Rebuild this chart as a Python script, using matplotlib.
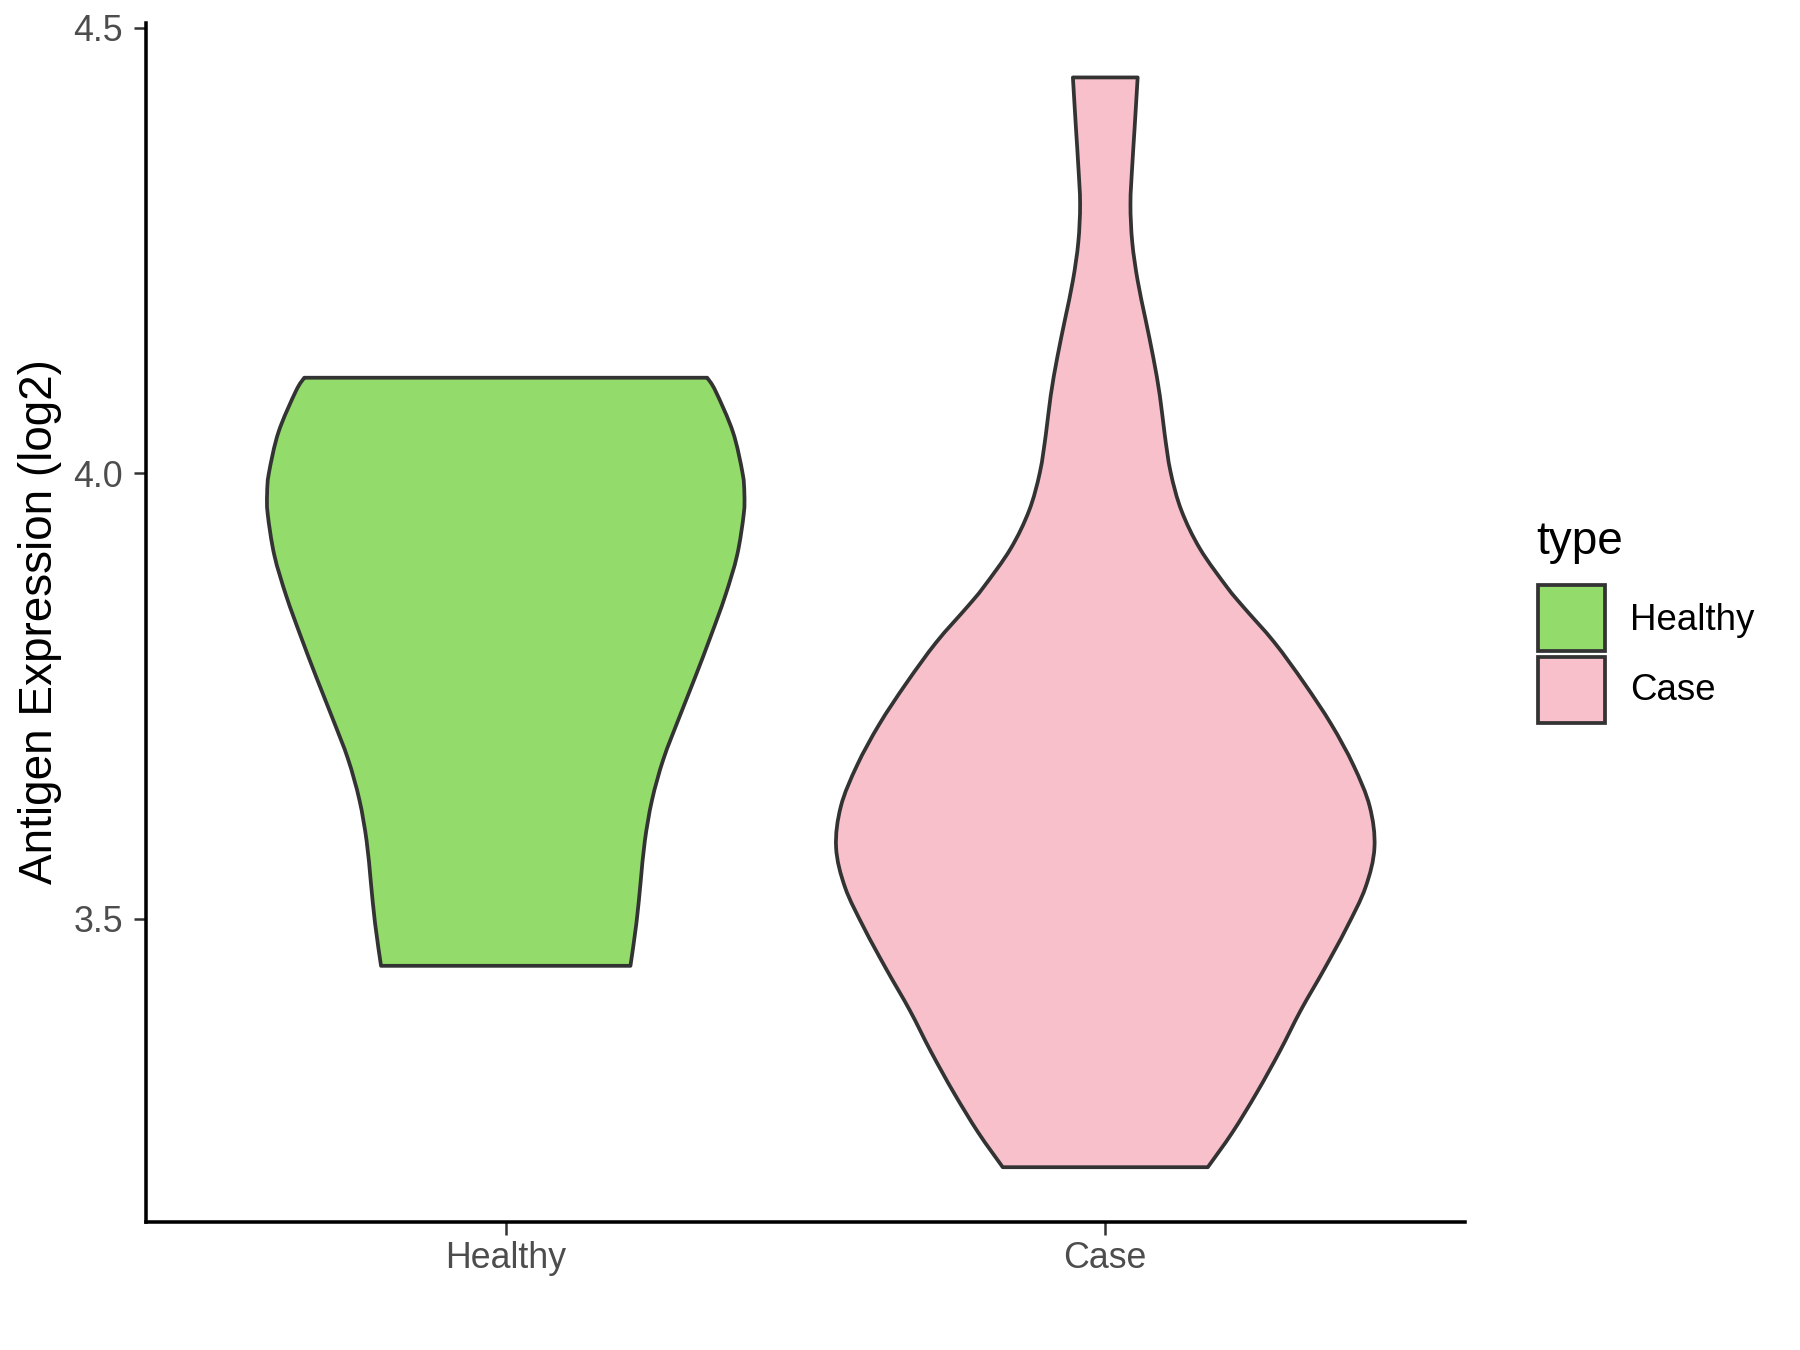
import matplotlib
matplotlib.use("Agg")
import matplotlib.pyplot as plt
from matplotlib.patches import Rectangle, PathPatch
from matplotlib.path import Path
import numpy as np

plt.rcParams['font.family'] = ['Liberation Sans', 'DejaVu Sans']

# ---- data (violin outlines) ----
categories = ["Healthy", "Case"]
fill_colors = ["#93DB6A", "#F8C0CB"]

healthy_y = [4.107, 4.092, 4.046, 4.000, 3.977, 3.954, 3.908, 3.862, 3.817,
             3.771, 3.725, 3.679, 3.633, 3.587, 3.541, 3.495, 3.447]
healthy_hw = [0.336, 0.350, 0.379, 0.395, 0.398, 0.397, 0.386, 0.366, 0.342,
              0.316, 0.289, 0.263, 0.244, 0.232, 0.225, 0.218, 0.208]

case_y = [4.444, 4.388, 4.345, 4.302, 4.259, 4.216, 4.173, 4.130, 4.087,
          4.044, 4.001, 3.958, 3.915, 3.872, 3.850, 3.810, 3.764, 3.718,
          3.672, 3.626, 3.580, 3.535, 3.489, 3.443, 3.397, 3.351, 3.305,
          3.260, 3.221]
case_hw = [0.054, 0.049, 0.045, 0.042, 0.045, 0.054, 0.067, 0.080, 0.091,
           0.099, 0.109, 0.127, 0.158, 0.203, 0.230, 0.282, 0.332, 0.377,
           0.414, 0.441, 0.449, 0.434, 0.402, 0.365, 0.326, 0.291, 0.253,
           0.212, 0.171]

y_ticks = [3.5, 4.0, 4.5]
y_tick_labels = ["3.5", "4.0", "4.5"]
y_label = "Antigen Expression (log2)"
legend_title = "type"

profiles = [(healthy_y, healthy_hw), (case_y, case_hw)]


def smooth_segments(pts):
    """Cubic Bezier pieces (Catmull-Rom) through the given points."""
    pts = np.asarray(pts, dtype=float)
    n = len(pts)
    verts, codes = [], []
    for i in range(n - 1):
        p0 = pts[i - 1] if i > 0 else pts[i]
        p1 = pts[i]
        p2 = pts[i + 1]
        p3 = pts[i + 2] if i + 2 < n else pts[i + 1]
        c1 = p1 + (p2 - p0) / 6.0
        c2 = p2 - (p3 - p1) / 6.0
        verts += [tuple(c1), tuple(c2), tuple(p2)]
        codes += [Path.CURVE4] * 3
    return verts, codes


# ---- figure ----
fig = plt.figure(figsize=(6, 4.5), dpi=300)
ax = fig.add_axes([146/1800, 1 - 1222/1350, (1465-146)/1800, (1222-23)/1350])

edge = "#333333"
for i, (yy, hw) in enumerate(profiles):
    c = i + 1
    yy = np.asarray(yy)
    hw = np.asarray(hw)
    left = np.column_stack([c - hw, yy])              # top -> bottom
    right = np.column_stack([c + hw, yy])[::-1]       # bottom -> top
    verts = [tuple(left[0])]
    codes = [Path.MOVETO]
    v, cd = smooth_segments(left)
    verts += v; codes += cd
    verts.append(tuple(right[0])); codes.append(Path.LINETO)
    v, cd = smooth_segments(right)
    verts += v; codes += cd
    verts.append(tuple(left[0])); codes.append(Path.CLOSEPOLY)
    patch = PathPatch(Path(verts, codes), facecolor=fill_colors[i],
                      edgecolor=edge, linewidth=0.9, joinstyle='round', zorder=2)
    ax.add_patch(patch)

ax.set_xlim(0.4, 2.6)
ax.set_ylim(3.1595, 4.5051)
ax.set_xticks([1, 2])
ax.set_xticklabels(categories)
ax.set_yticks(y_ticks)
ax.set_yticklabels(y_tick_labels)

for s in ["top", "right"]:
    ax.spines[s].set_visible(False)
for s in ["left", "bottom"]:
    ax.spines[s].set_linewidth(0.85)
    ax.spines[s].set_color("black")
ax.tick_params(axis='both', length=3.0, width=0.6, color="#333333",
               labelsize=8.6, labelcolor="#4D4D4D", pad=2.5)
ax.tick_params(axis='x', pad=1.6)

fig.text(40/1800, 1 - 622/1350, y_label, rotation=90, ha='center',
         va='center', fontsize=11, color='black')

# ---- legend ----
fig.text(1536/1800, 1 - 542/1350, legend_title, ha='left', va='center',
         fontsize=11, color='black')
key_x = 1538/1800
key_w = 67/1800
key_h = 66/1350
key_tops = [585, 657]
label_y = [620, 690]
for i, cat in enumerate(categories):
    fig.patches.append(Rectangle((key_x, 1 - (key_tops[i] + 66)/1350), key_w, key_h,
                                 transform=fig.transFigure, facecolor=fill_colors[i],
                                 edgecolor=edge, linewidth=0.9))
    fig.text(1630/1800, 1 - label_y[i]/1350, cat, ha='left', va='center',
             fontsize=8.8, color='black')

fig.savefig("out.png", dpi=300)
